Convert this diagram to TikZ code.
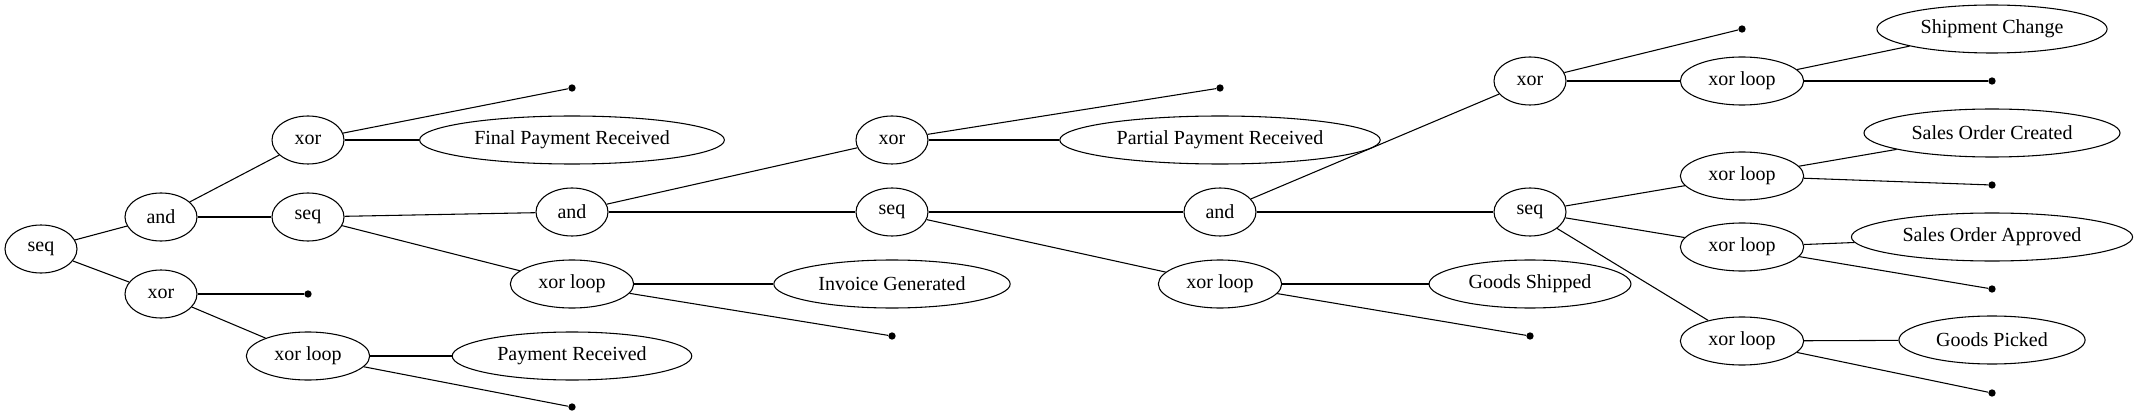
\documentclass[tikz,border=0pt]{standalone}
\usepackage{fontspec}
\setmainfont{Liberation Serif}
\usetikzlibrary{shapes.geometric}
\begin{document}
\begin{tikzpicture}[x=0.75pt, y=-0.75pt, line width=0.8pt,
  op/.style = {draw, ellipse, inner xsep=7.5pt, inner ysep=4pt, minimum width=54pt, minimum height=36pt, font=\fontsize{15}{18}\selectfont},
  tip/.style = {circle, fill, inner sep=0pt, minimum size=5.5pt}]
\useasboundingbox (0,0) rectangle (2138,417);

\node[op] (seq0) at (41,249) {seq};

\node[op] (and1) at (161,217) {and};
\node[op] (xor1) at (161,294) {xor};

\node[op] (xor2) at (308,140) {xor};
\node[op] (seq2) at (308,217) {seq};
\node[tip] (t1) at (308,294) {};
\node[op] (loop2) at (308,356) {xor loop};

\node[tip] (t2) at (572,88) {};
\node[op] (final) at (572,140) {Final Payment Received};
\node[op] (and3) at (572,212) {and};
\node[op] (loop3) at (572,284) {xor loop};
\node[op] (paid) at (572,356) {Payment Received};
\node[tip] (t3) at (572,407) {};

\node[op] (xor4) at (892,140) {xor};
\node[op] (seq4) at (892,212) {seq};
\node[op] (invoice) at (892,284) {Invoice Generated};
\node[tip] (t4) at (892,336) {};

\node[tip] (t5) at (1220,88) {};
\node[op] (partial) at (1220,140) {Partial Payment Received};
\node[op] (and5) at (1220,212) {and};
\node[op] (loop5) at (1220,284) {xor loop};

\node[op] (xor6) at (1530,81) {xor};
\node[op] (seq6) at (1530,212) {seq};
\node[op] (shipped) at (1530,284) {Goods Shipped};
\node[tip] (t6) at (1530,336) {};

\node[tip] (t7) at (1742,29) {};
\node[op] (loop7) at (1742,81) {xor loop};
\node[op] (loop8) at (1742,176) {xor loop};
\node[op] (loop9) at (1742,247) {xor loop};
\node[op] (loop10) at (1742,341) {xor loop};

\node[op] (change) at (1992,29) {Shipment Change};
\node[tip] (t8) at (1992,81) {};
\node[op] (created) at (1992,133) {Sales Order Created};
\node[tip] (t9) at (1992,185) {};
\node[op] (approved) at (1992,237) {Sales Order Approved};
\node[tip] (t10) at (1992,289) {};
\node[op] (picked) at (1992,340) {Goods Picked};
\node[tip] (t11) at (1992,393) {};

\draw[-] (seq0) -- (and1);
\draw[-] (seq0) -- (xor1);

\draw[-] (and1) -- (xor2);
\draw[-] (and1) -- (seq2);
\draw[-] (xor1) -- (t1);
\draw[-] (xor1) -- (loop2);

\draw[-] (xor2) -- (t2);
\draw[-] (xor2) -- (final);
\draw[-] (seq2) -- (and3);
\draw[-] (seq2) -- (loop3);
\draw[-] (loop2) -- (paid);
\draw[-] (loop2) -- (t3);

\draw[-] (and3) -- (xor4);
\draw[-] (and3) -- (seq4);
\draw[-] (loop3) -- (invoice);
\draw[-] (loop3) -- (t4);

\draw[-] (xor4) -- (t5);
\draw[-] (xor4) -- (partial);
\draw[-] (seq4) -- (and5);
\draw[-] (seq4) -- (loop5);

\draw[-] (and5) -- (xor6);
\draw[-] (and5) -- (seq6);
\draw[-] (loop5) -- (shipped);
\draw[-] (loop5) -- (t6);

\draw[-] (xor6) -- (t7);
\draw[-] (xor6) -- (loop7);
\draw[-] (seq6) -- (loop8);
\draw[-] (seq6) -- (loop9);
\draw[-] (seq6) -- (loop10);

\draw[-] (loop7) -- (change);
\draw[-] (loop7) -- (t8);
\draw[-] (loop8) -- (created);
\draw[-] (loop8) -- (t9);
\draw[-] (loop9) -- (approved);
\draw[-] (loop9) -- (t10);
\draw[-] (loop10) -- (picked);
\draw[-] (loop10) -- (t11);

\end{tikzpicture}
\end{document}
